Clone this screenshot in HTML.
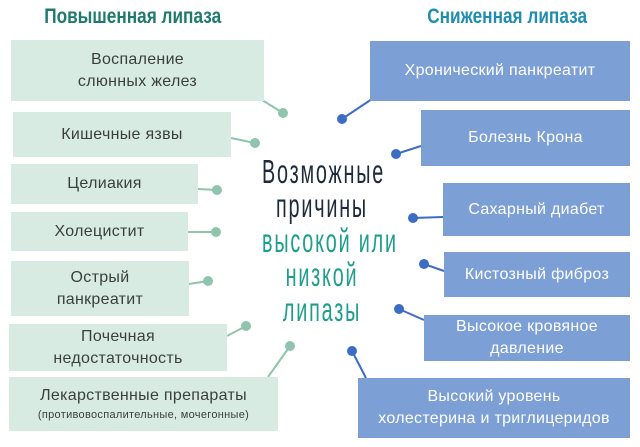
<!DOCTYPE html>
<html><head><meta charset="utf-8"><style>
body{margin:0;width:640px;height:447px;background:#fff;position:relative;overflow:hidden;font-family:"Liberation Sans",sans-serif}
.b{position:absolute;display:flex;align-items:center;justify-content:center;text-align:center;line-height:22px;font-size:16px;letter-spacing:0.3px}
.l{background:#d8ebe2;color:#3a3f3e}
.r{background:#7c9fd6;color:#fff}
.t{position:absolute;font-weight:bold;font-size:21px;transform:scaleX(0.82);transform-origin:center;white-space:nowrap}
.c{position:absolute;left:222px;width:200px;text-align:center;font-size:33px;line-height:34px;transform:scaleX(0.6);transform-origin:center;white-space:nowrap;letter-spacing:3px}
</style></head><body>
<div class="t" style="left:28px;top:5px;width:180px;text-align:center;color:#1d7a6d">Повышенная липаза</div>
<div class="t" style="left:411px;top:5px;width:180px;text-align:center;color:#1e8db0">Сниженная липаза</div>
<svg width="640" height="447" style="position:absolute;left:0;top:0">
<g stroke="#8fc4ad" stroke-width="2" fill="#8fc4ad">
<line x1="262" y1="100" x2="283" y2="113"/><circle cx="283" cy="113" r="4"/>
<line x1="231" y1="138" x2="255" y2="143"/><circle cx="255" cy="143" r="4"/>
<line x1="198" y1="189" x2="217" y2="190"/><circle cx="217" cy="190" r="4"/>
<line x1="188" y1="232" x2="216" y2="232"/><circle cx="216" cy="232" r="4"/>
<line x1="189" y1="284" x2="208" y2="281"/><circle cx="208" cy="281" r="4"/>
<line x1="227" y1="336" x2="246" y2="326"/><circle cx="246" cy="326" r="4"/>
<line x1="268" y1="377" x2="290" y2="346"/><circle cx="290" cy="346" r="4"/>
</g>
<g stroke="#3d6cc4" stroke-width="2" fill="#3d6cc4">
<line x1="372" y1="99" x2="342" y2="119"/><circle cx="342" cy="119" r="4"/>
<line x1="421" y1="146" x2="396" y2="154"/><circle cx="396" cy="154" r="4"/>
<line x1="443" y1="217" x2="413" y2="218"/><circle cx="413" cy="218" r="4"/>
<line x1="444" y1="271" x2="424" y2="264"/><circle cx="424" cy="264" r="4"/>
<line x1="424" y1="320" x2="399" y2="309"/><circle cx="399" cy="309" r="4"/>
<line x1="366" y1="378" x2="352" y2="351"/><circle cx="352" cy="351" r="4"/>
</g></svg>
<div class="b l" style="left:11px;top:40px;width:253px;height:61px">Воспаление<br>слюнных желез</div>
<div class="b l" style="left:13px;top:112px;width:218px;height:45px">Кишечные язвы</div>
<div class="b l" style="left:11px;top:164px;width:187px;height:40px">Целиакия</div>
<div class="b l" style="left:11px;top:212px;width:177px;height:39px">Холецистит</div>
<div class="b l" style="left:11px;top:261px;width:178px;height:55px">Острый<br>панкреатит</div>
<div class="b l" style="left:9px;top:324px;width:218px;height:47px">Почечная<br>недостаточность</div>
<div class="b l" style="left:9px;top:377px;width:269px;height:54px;flex-direction:column"><span>Лекарственные препараты</span><span style="font-size:11px;line-height:16px">(противовоспалительные, мочегонные)</span></div>
<div class="b r" style="left:370px;top:41px;width:260px;height:60px">Хронический панкреатит</div>
<div class="b r" style="left:421px;top:110px;width:209px;height:56px">Болезнь Крона</div>
<div class="b r" style="left:443px;top:183px;width:187px;height:53px">Сахарный диабет</div>
<div class="b r" style="left:444px;top:252px;width:186px;height:45px">Кистозный фиброз</div>
<div class="b r" style="left:424px;top:315px;width:206px;height:46px">Высокое кровяное<br>давление</div>
<div class="b r" style="left:358px;top:378px;width:272px;height:60px">Высокий уровень<br>холестерина и триглицеридов</div>
<div class="c" style="top:155px;color:#1c2a3a">Возможные</div>
<div class="c" style="top:189px;color:#1c2a3a">причины</div>
<div class="c" style="top:224px;color:#1f9e8c">высокой или</div>
<div class="c" style="top:258px;color:#1f9e8c">низкой</div>
<div class="c" style="top:293px;color:#1f9e8c">липазы</div>
</body></html>
